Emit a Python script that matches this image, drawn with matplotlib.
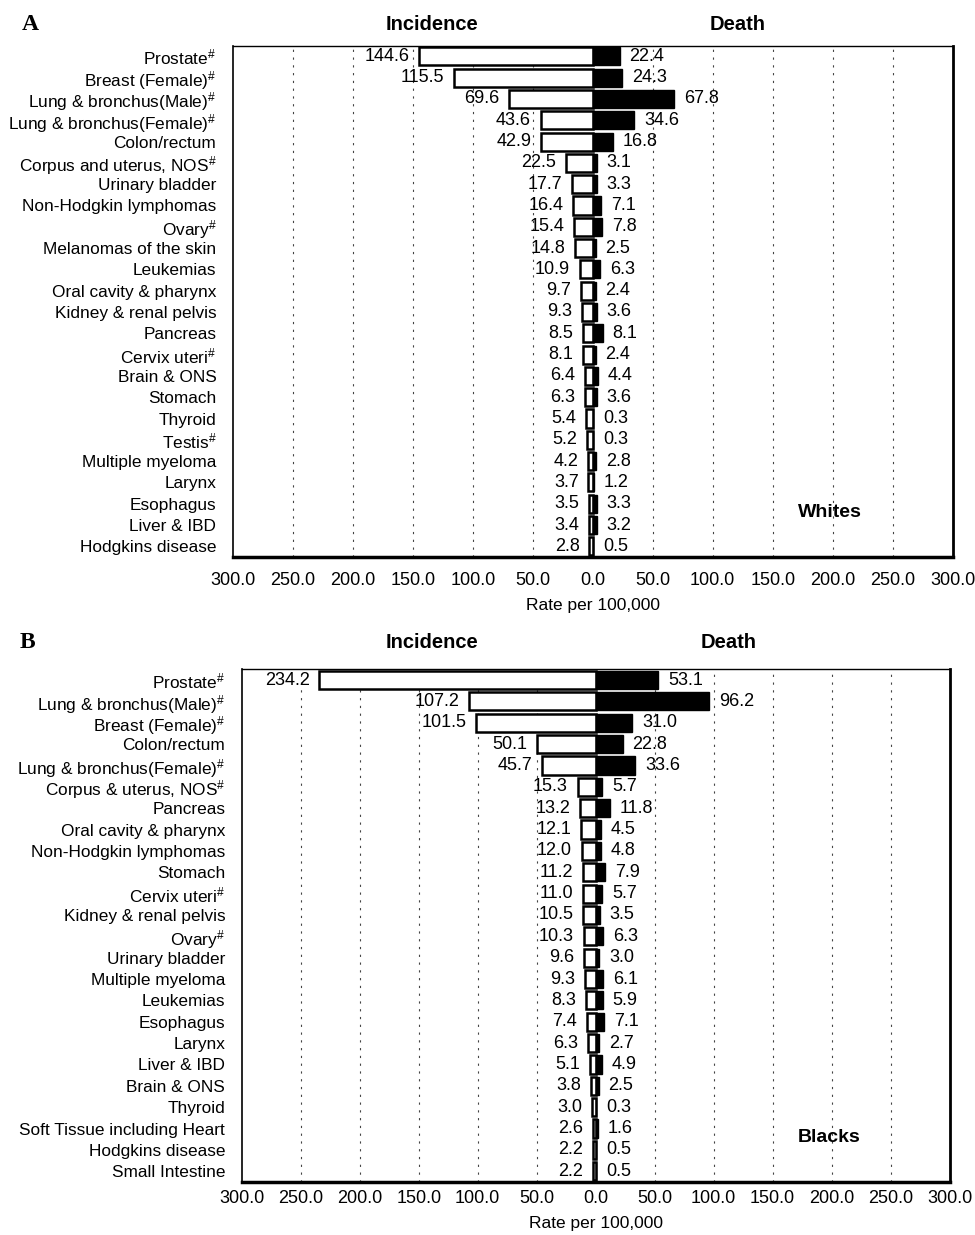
import matplotlib
matplotlib.use("Agg")
import matplotlib.pyplot as plt

plt.rcParams["font.family"] = ["Liberation Sans", "DejaVu Sans"]
plt.rcParams["mathtext.fontset"] = "custom"
plt.rcParams["mathtext.rm"] = "Liberation Sans"
plt.rcParams["mathtext.default"] = "regular"

# Whites
sites_w = ["Prostate#", "Breast (Female)#", "Lung & bronchus(Male)#", "Lung & bronchus(Female)#",
           "Colon/rectum", "Corpus and uterus, NOS#", "Urinary bladder", "Non-Hodgkin lymphomas",
           "Ovary#", "Melanomas of the skin", "Leukemias", "Oral cavity & pharynx",
           "Kidney & renal pelvis", "Pancreas", "Cervix uteri#", "Brain & ONS", "Stomach",
           "Thyroid", "Testis#", "Multiple myeloma", "Larynx", "Esophagus", "Liver & IBD",
           "Hodgkins disease"]
incidence_w = [144.6, 115.5, 69.6, 43.6, 42.9, 22.5, 17.7, 16.4, 15.4, 14.8, 10.9, 9.7,
               9.3, 8.5, 8.1, 6.4, 6.3, 5.4, 5.2, 4.2, 3.7, 3.5, 3.4, 2.8]
death_w = [22.4, 24.3, 67.8, 34.6, 16.8, 3.1, 3.3, 7.1, 7.8, 2.5, 6.3, 2.4,
           3.6, 8.1, 2.4, 4.4, 3.6, 0.3, 0.3, 2.8, 1.2, 3.3, 3.2, 0.5]

# Blacks
sites_b = ["Prostate#", "Lung & bronchus(Male)#", "Breast (Female)#", "Colon/rectum",
           "Lung & bronchus(Female)#", "Corpus & uterus, NOS#", "Pancreas", "Oral cavity & pharynx",
           "Non-Hodgkin lymphomas", "Stomach", "Cervix uteri#", "Kidney & renal pelvis", "Ovary#",
           "Urinary bladder", "Multiple myeloma", "Leukemias", "Esophagus", "Larynx",
           "Liver & IBD", "Brain & ONS", "Thyroid", "Soft Tissue including Heart",
           "Hodgkins disease", "Small Intestine"]
incidence_b = [234.2, 107.2, 101.5, 50.1, 45.7, 15.3, 13.2, 12.1, 12.0, 11.2, 11.0, 10.5,
               10.3, 9.6, 9.3, 8.3, 7.4, 6.3, 5.1, 3.8, 3.0, 2.6, 2.2, 2.2]
death_b = [53.1, 96.2, 31.0, 22.8, 33.6, 5.7, 11.8, 4.5, 4.8, 7.9, 5.7, 3.5,
           6.3, 3.0, 6.1, 5.9, 7.1, 2.7, 4.9, 2.5, 0.3, 1.6, 0.5, 0.5]

ticks = [-300, -250, -200, -150, -100, -50, 0, 50, 100, 150, 200, 250, 300]


def site_label(name):
    if name.endswith("#"):
        return name[:-1] + r"$^{\#}$"
    return name


def draw_panel(ax, sites, inc, dth, group, xpad):
    y = list(range(len(sites)))
    for g in ticks[1:-1]:
        if g != 0:
            ax.axvline(g, color="#444444", lw=0.8, ls=(0, (2, 5)), zorder=0)
    ax.barh(y, [-v for v in inc], height=0.85, color="white", edgecolor="black", lw=1.8, zorder=2)
    ax.barh(y, dth, height=0.85, color="black", edgecolor="black", lw=1.0, zorder=2)
    for i, (a, d) in enumerate(zip(inc, dth)):
        ax.annotate(f"{a:.1f}", (-a, i), xytext=(-7, 0), textcoords="offset points",
                    ha="right", va="center", fontsize=13)
        ax.annotate(f"{d:.1f}", (d, i), xytext=(7, 0), textcoords="offset points",
                    ha="left", va="center", fontsize=13)
    ax.set_xlim(-300, 300)
    ax.set_ylim(len(sites) - 0.5, -0.5)
    ax.set_yticks(y)
    ax.set_yticklabels([site_label(s) for s in sites], fontsize=12.4)
    ax.set_xticks(ticks)
    ax.set_xticklabels([f"{abs(t):.1f}" for t in ticks], fontsize=13)
    ax.tick_params(length=0, axis="y", pad=12)
    ax.tick_params(length=0, axis="x", pad=xpad)
    ax.set_xlabel("Rate per 100,000", fontsize=12.5, labelpad=6)
    for side, w in (("left", 1.2), ("top", 1.0), ("right", 2.0), ("bottom", 2.5)):
        ax.spines[side].set_linewidth(w)
    ax.text(198, len(sites) - 2.6, group, fontsize=14, fontweight="bold", ha="center", va="center")


fig = plt.figure(figsize=(9.75, 12.35), dpi=100)
ax_a = fig.add_axes([0.239, 0.549, 0.738, 0.414])
ax_b = fig.add_axes([0.248, 0.043, 0.726, 0.415])

draw_panel(ax_a, sites_w, incidence_w, death_w, "Whites", 11)
draw_panel(ax_b, sites_b, incidence_b, death_b, "Blacks", 6)

fig.text(0.022, 0.980, "A", family="Liberation Serif", fontsize=17, fontweight="bold", va="center")
fig.text(0.443, 0.980, "Incidence", fontsize=14.5, fontweight="bold", ha="center", va="center")
fig.text(0.757, 0.980, "Death", fontsize=14.5, fontweight="bold", ha="center", va="center")
fig.text(0.020, 0.480, "B", family="Liberation Serif", fontsize=17, fontweight="bold", va="center")
fig.text(0.443, 0.480, "Incidence", fontsize=14.5, fontweight="bold", ha="center", va="center")
fig.text(0.747, 0.480, "Death", fontsize=14.5, fontweight="bold", ha="center", va="center")

fig.savefig("out.png", dpi=100)
